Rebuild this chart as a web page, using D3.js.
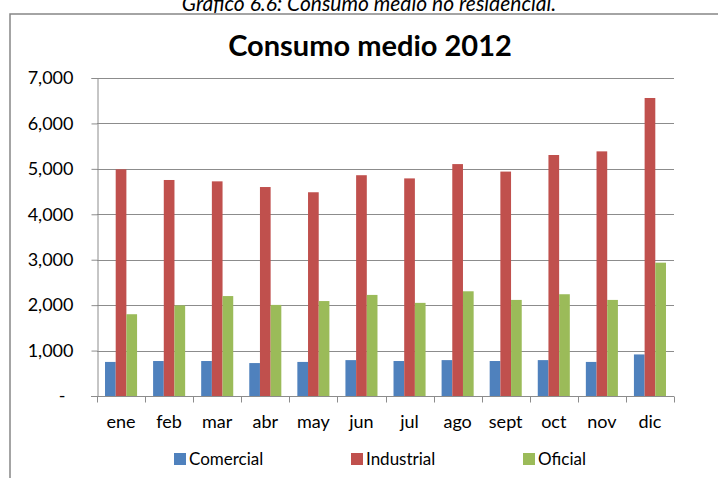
<!DOCTYPE html>
<html>
<head>
<meta charset="utf-8">
<script src="https://cdn.jsdelivr.net/npm/d3@7/dist/d3.min.js"></script>
<style>
  html, body { margin: 0; padding: 0; background: #fff; }
  svg { display: block; }
  text { font-family: Lato, "Open Sans", sans-serif; fill: #000; }
</style>
</head>
<body>
<script>
// Monthly average consumption, 2012
const months = ["ene", "feb", "mar", "abr", "may", "jun", "jul", "ago", "sept", "oct", "nov", "dic"];
const seriesNames = ["Comercial", "Industrial", "Oficial"];
const comercial  = [750, 770, 770, 725, 750, 790, 770, 790, 770, 790, 750, 915];
const industrial = [4990, 4755, 4725, 4600, 4485, 4860, 4790, 5105, 4940, 5305, 5385, 6560];
const oficial    = [1800, 1995, 2200, 2005, 2090, 2225, 2050, 2305, 2115, 2240, 2115, 2935];
const yTicks = [0, 1000, 2000, 3000, 4000, 5000, 6000, 7000];
const colors = ["#4F81BD", "#C0504D", "#9BBB59"];

const W = 718, H = 478;
const plot = { left: 97, right: 674, top: 78, bottom: 396 };

const svg = d3.select("body").append("svg")
  .attr("width", W).attr("height", H);

// caption above the chart frame (runs off the top of the page)
svg.append("text")
  .attr("x", 369).attr("y", 10.5)
  .attr("text-anchor", "middle")
  .style("font-style", "italic")
  .style("font-size", "21px")
  .text("Gráfico 6.6: Consumo medio no residencial.");

// chart frame
svg.append("rect")
  .attr("x", 10).attr("y", 14)
  .attr("width", 800).attr("height", 600)
  .attr("fill", "none")
  .attr("stroke", "#868686")
  .attr("stroke-width", 1.5);

// title
svg.append("text")
  .attr("x", 370).attr("y", 56)
  .attr("text-anchor", "middle")
  .style("font-weight", "bold")
  .style("font-size", "29px")
  .text("Consumo medio 2012");

const x = d3.scaleBand().domain(months).range([plot.left, plot.right]).paddingInner(0).paddingOuter(0);
const xs = d3.scaleBand().domain(seriesNames).range([0, x.bandwidth()]).paddingInner(0).paddingOuter(0.75);
const y = d3.scaleLinear().domain([0, 7000]).range([plot.bottom, plot.top]);

// horizontal gridlines
svg.append("g")
  .selectAll("line")
  .data(yTicks.filter(d => d > 0))
  .join("line")
  .attr("x1", plot.left).attr("x2", plot.right)
  .attr("y1", d => Math.round(y(d)) + 0.5).attr("y2", d => Math.round(y(d)) + 0.5)
  .attr("stroke", "#8c8c8c").attr("stroke-width", 1);

// bars
const seriesData = [comercial, industrial, oficial];
seriesNames.forEach((name, si) => {
  svg.append("g")
    .selectAll("rect")
    .data(months.map((m, i) => ({ m, v: seriesData[si][i] })))
    .join("rect")
    .attr("x", d => x(d.m) + xs(name))
    .attr("width", xs.bandwidth())
    .attr("y", d => y(d.v))
    .attr("height", d => y(0) - y(d.v))
    .attr("fill", colors[si]);
});

// y axis
const yAxis = svg.append("g")
  .attr("transform", `translate(${plot.left + 0.5},0)`)
  .call(d3.axisLeft(y).tickValues(yTicks).tickSize(6).tickPadding(18)
    .tickFormat(d => d === 0 ? "-" : d3.format(",")(d)));
yAxis.select(".domain").attr("stroke", "#8c8c8c");
yAxis.selectAll(".tick line").attr("stroke", "#8c8c8c");
yAxis.selectAll(".tick text")
  .style("font-size", "18px")
  .attr("fill", "#000")
  .attr("dx", d => d === 0 ? "-8" : "0");

// x axis with tick marks on category boundaries
const xAxisG = svg.append("g")
  .attr("transform", `translate(0,${plot.bottom + 0.5})`);
xAxisG.append("line")
  .attr("x1", plot.left - 6).attr("x2", plot.right)
  .attr("stroke", "#8c8c8c");
const bounds = months.map(m => x(m)).concat([plot.right]);
xAxisG.selectAll("line.b")
  .data(bounds)
  .join("line")
  .attr("class", "b")
  .attr("x1", d => Math.round(d) + 0.5).attr("x2", d => Math.round(d) + 0.5)
  .attr("y1", 0).attr("y2", 6)
  .attr("stroke", "#8c8c8c");
xAxisG.selectAll("text")
  .data(months)
  .join("text")
  .attr("x", d => x(d) + x.bandwidth() / 2)
  .attr("y", 31)
  .attr("text-anchor", "middle")
  .style("font-size", "18px")
  .text(d => d);

// legend
const legendX = [174, 351, 523];
const legend = svg.append("g");
seriesNames.forEach((name, i) => {
  legend.append("rect")
    .attr("x", legendX[i]).attr("y", 453)
    .attr("width", 12).attr("height", 12)
    .attr("fill", colors[i]);
  legend.append("text")
    .attr("x", legendX[i] + 15).attr("y", 465)
    .style("font-size", "17px")
    .text(name);
});
</script>
</body>
</html>
